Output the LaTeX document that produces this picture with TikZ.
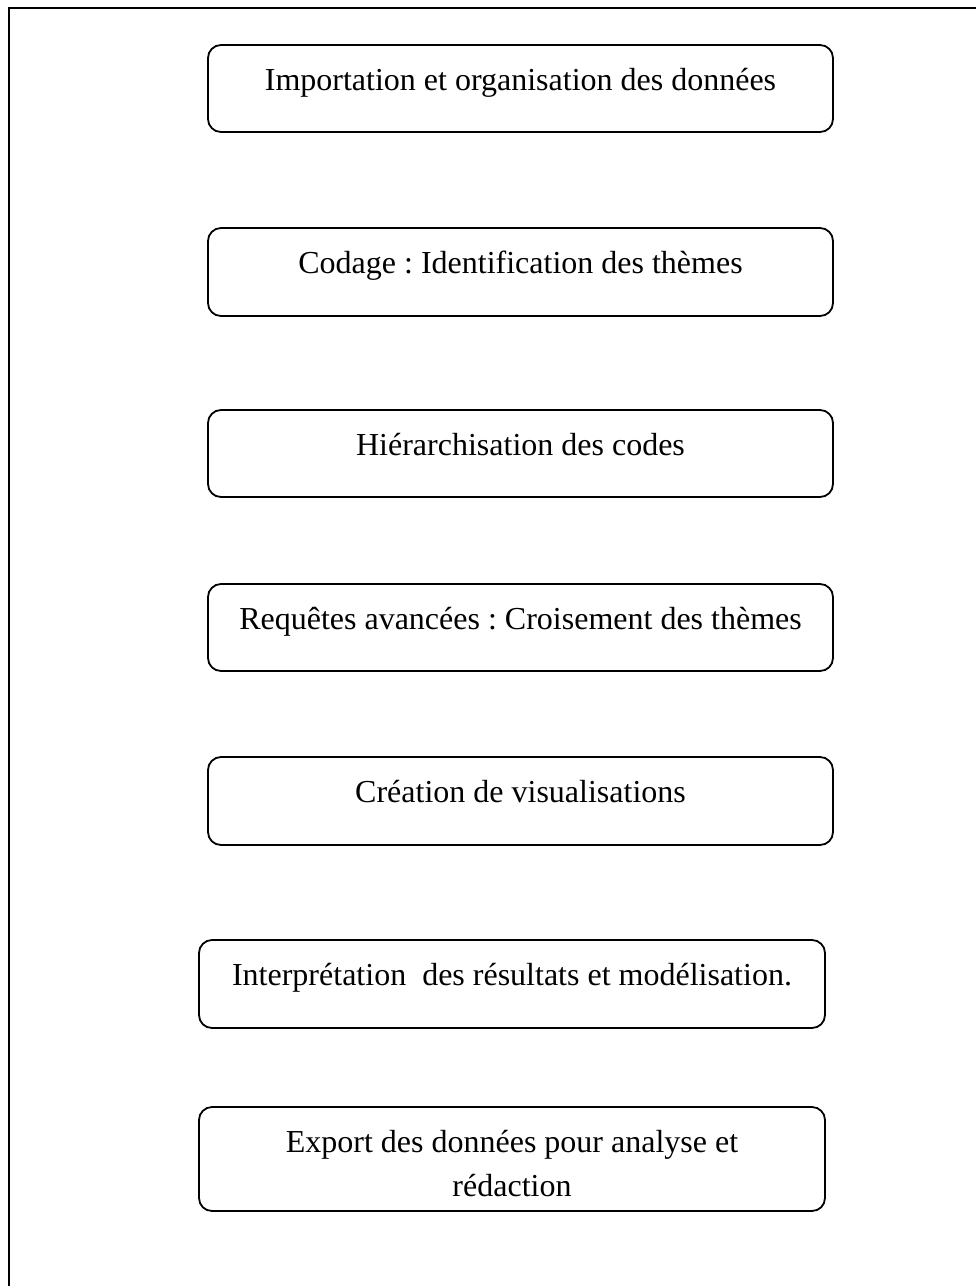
\documentclass[tikz,border=0pt]{standalone}
\usepackage{fontspec}
\setmainfont{Liberation Serif}
\frenchspacing
\usetikzlibrary{calc}
\begin{document}
\begin{tikzpicture}[x=1pt,y=-1pt,
  stepbox/.style={draw=black,line width=1.8pt,rounded corners=13pt,rectangle,inner sep=0pt},
  steptext/.style={anchor=base,inner sep=0pt,align=center,font=\fontsize{32}{44}\selectfont},
  frameline/.style={draw=black,line width=2.6pt}]
\useasboundingbox (0,0) rectangle (976,1286);
% open frame: top and left edges only
\coordinate (ftr) at (976,8);
\coordinate (ftl) at (9,8);
\coordinate (fbl) at (9,1286);
\draw[frameline] (ftr) -- (ftl) -- (fbl);
% step boxes
\node[stepbox,minimum width=625pt,minimum height=87pt] (b1) at (520.5,88.5) {};
\node[stepbox,minimum width=625pt,minimum height=88pt] (b2) at (520.5,272) {};
\node[stepbox,minimum width=625pt,minimum height=87pt] (b3) at (520.5,453.5) {};
\node[stepbox,minimum width=625pt,minimum height=87pt] (b4) at (520.5,627.5) {};
\node[stepbox,minimum width=625pt,minimum height=88pt] (b5) at (520.5,801) {};
\node[stepbox,minimum width=626pt,minimum height=88pt] (b6) at (512,984) {};
\node[stepbox,minimum width=626pt,minimum height=104pt] (b7) at (512,1159) {};
% labels, first baseline about 46 below each box top
\node[steptext] (t1) at ($(b1.north)+(0,46)$) {Importation et organisation des données};
\node[steptext] (t2) at ($(b2.north)+(0,46)$) {Codage : Identification des thèmes};
\node[steptext] (t3) at ($(b3.north)+(0,46)$) {Hiérarchisation des codes};
\node[steptext] (t4) at ($(b4.north)+(0,46)$) {Requêtes avancées : Croisement des thèmes};
\node[steptext] (t5) at ($(b5.north)+(0,46)$) {Création de visualisations};
\node[steptext] (t6) at ($(b6.north)+(0,46)$) {Interprétation\ \ des résultats et modélisation.};
% two-line label: base anchor sits on the last line
\node[steptext] (t7) at ($(b7.north)+(0,90)$) {Export des données pour analyse et\\rédaction};
\end{tikzpicture}
\end{document}
